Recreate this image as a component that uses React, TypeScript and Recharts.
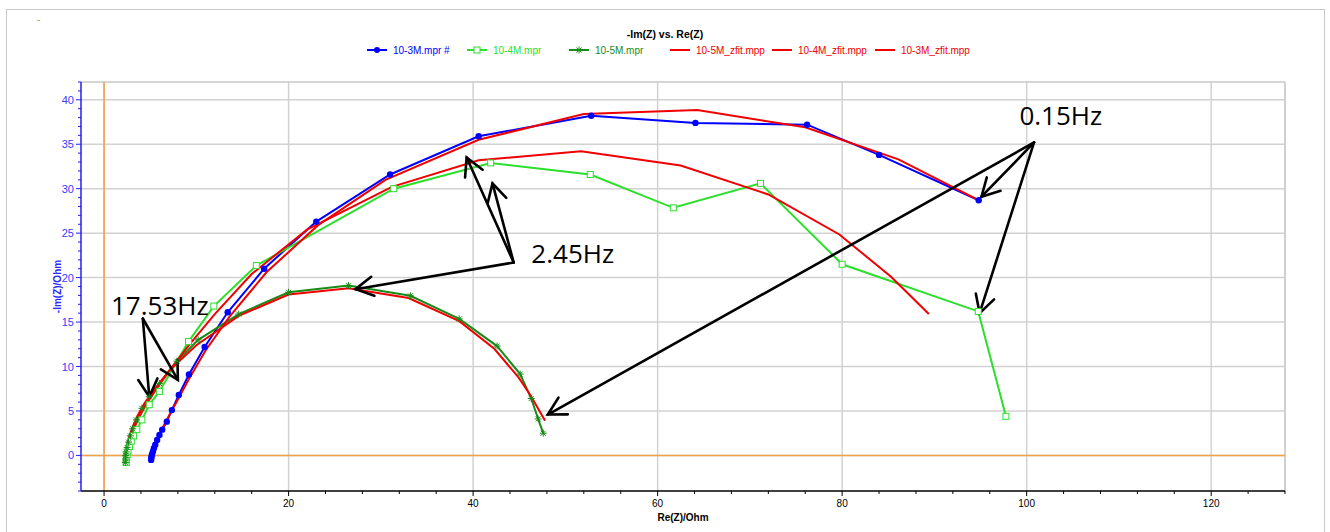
import {
  CartesianGrid,
  Line,
  LineChart,
  ReferenceDot,
  ReferenceLine,
  XAxis,
  YAxis,
} from "recharts";

// measured points, [Re(Z), -Im(Z)] in Ohm
const mpr3M: number[][] = [
  [5.1, -0.5], [5.12, -0.3], [5.15, -0.1], [5.2, 0.15], [5.3, 0.45], [5.4, 0.8],
  [5.55, 1.2], [5.75, 1.75], [6.0, 2.3], [6.3, 2.9], [6.8, 3.8], [7.35, 5.1],
  [8.1, 6.8], [9.2, 9.1], [10.9, 12.2], [13.4, 16.1], [17.35, 21.0], [23, 26.3],
  [31, 31.6], [40.6, 35.9], [52.8, 38.2], [64.1, 37.4], [76.2, 37.2], [84, 33.8],
  [94.8, 28.7],
];

const mpr4M: number[][] = [
  [2.4, -0.8], [2.42, -0.5], [2.45, -0.2], [2.5, 0.1], [2.6, 0.5], [2.75, 1.0],
  [2.95, 1.6], [3.2, 2.2], [3.55, 2.9], [4.1, 4.0], [4.9, 5.7], [6.0, 7.2],
  [9.15, 12.8], [11.9, 16.8], [16.5, 21.35], [31.4, 30.0], [41.9, 32.9],
  [52.7, 31.6], [61.7, 27.85], [71.15, 30.6], [80.0, 21.5], [94.75, 16.2],
  [97.75, 4.4],
];

const mpr5M: number[][] = [
  [2.3, -0.8], [2.32, -0.4], [2.35, 0], [2.4, 0.4], [2.5, 0.9], [2.65, 1.5],
  [2.85, 2.2], [3.1, 3.0], [3.5, 4.0], [4.1, 5.3], [4.9, 6.6], [6.0, 8.1],
  [7.9, 10.6], [10.2, 13.0], [14.6, 15.9], [20.0, 18.35], [26.5, 19.1],
  [33.2, 17.95], [38.5, 15.35], [42.6, 12.3], [45.1, 9.15], [46.3, 6.4],
  [47.05, 4.1], [47.6, 2.5],
];

// fitted curves
const fit5M: number[][] = [
  [2.3, 0], [2.45, 1.0], [2.7, 2.0], [3.05, 3.1], [3.6, 4.4], [4.4, 5.9],
  [5.5, 7.5], [7.2, 9.7], [10, 12.4], [14.6, 15.7], [20, 18.1], [26.5, 18.8],
  [33, 17.7], [38.5, 15.1], [42.3, 12.0], [44.9, 8.8], [46.2, 6.8], [47.8, 3.9],
];

const fit4M: number[][] = [
  [2.4, 0], [2.55, 0.8], [2.8, 1.8], [3.2, 2.9], [3.8, 4.3], [4.6, 5.8],
  [5.7, 7.5], [7.2, 9.7], [9.2, 12.4], [12, 15.9], [16, 20.4], [22, 25.4],
  [31.2, 30.2], [40.6, 33.2], [51.7, 34.2], [62.5, 32.6], [72, 29.35],
  [79.7, 24.85], [85.3, 20.1], [89.4, 15.9],
];

const fit3M: number[][] = [
  [5.1, 0], [5.35, 0.8], [5.75, 1.9], [6.3, 3.0], [7.0, 4.4], [7.9, 6.1],
  [9.2, 8.6], [11, 11.8], [13.6, 15.6], [17.6, 20.6], [23.2, 25.9], [30.5, 31.0],
  [40.6, 35.5], [52, 38.4], [64.3, 38.85], [76, 36.9], [86.1, 33.3], [95, 28.6],
];

const xTicks = Array.from({ length: 33 }, (_, i) => i * 4);
const yTicks = Array.from({ length: 47 }, (_, i) => i - 4);
const xGrid = [0, 20, 40, 60, 80, 100, 120];
const yGrid = [0, 5, 10, 15, 20, 25, 30, 35, 40];

// frequency call-outs: label point and arrows (data units)
const notes = [
  { text: "0.15Hz", at: [103.7, 38.3], from: [100.8, 35.2], to: [[95.1, 29.1], [94.9, 16.0], [48.1, 4.6]] },
  { text: "2.45Hz", at: [50.8, 22.8], from: [44.4, 21.7], to: [[39.3, 33.5], [42.1, 30.6], [27.25, 18.7]] },
  { text: "17.53Hz", at: [6.04, 16.9], from: [4.2, 15.4], to: [[4.9, 6.6], [8.0, 8.5]] },
];

const BLUE = "#0000ff";
const LIME = "#2bdf2b";
const DKGREEN = "#178a17";
const RED = "#f00000";
const ORANGE = "#f3a046";
const GRID = "#d2d2d2";
const AXIS_BLUE = "#2020f0";
const FONT = "'Liberation Sans', Arial, sans-serif";

const pts = (arr: number[][]) => arr.map(([x, y]) => ({ x, y }));

const Circle = (p: any) => <circle key={p.index} cx={p.cx} cy={p.cy} r={3.2} fill={BLUE} />;
const Square = (p: any) => (
  <rect key={p.index} x={p.cx - 3} y={p.cy - 3} width={6} height={6} fill="#fff" stroke={LIME} strokeWidth={1} />
);
const Star = (p: any) => {
  const { cx, cy } = p;
  const r = 3.5;
  return (
    <g key={p.index} stroke={DKGREEN} strokeWidth={1}>
      <line x1={cx - r} y1={cy} x2={cx + r} y2={cy} />
      <line x1={cx} y1={cy - r} x2={cx} y2={cy + r} />
      <line x1={cx - 2.5} y1={cy - 2.5} x2={cx + 2.5} y2={cy + 2.5} />
      <line x1={cx - 2.5} y1={cy + 2.5} x2={cx + 2.5} y2={cy - 2.5} />
    </g>
  );
};

const YTick = (p: any) => {
  const v = p.payload.value;
  const major = v % 5 === 0;
  return (
    <g>
      <line x1={p.x} x2={p.x - (major ? 5 : 3)} y1={p.y} y2={p.y} stroke={AXIS_BLUE} strokeWidth={1} />
      {major && v >= 0 && v <= 40 && (
        <text x={p.x - 7} y={p.y} textAnchor="end" dominantBaseline="central" fill="#3a3aff" fontSize={11} fontFamily={FONT}>
          {v}
        </text>
      )}
    </g>
  );
};

const XTick = (p: any) => {
  const v = p.payload.value;
  const major = v % 20 === 0;
  return (
    <g>
      <line x1={p.x} x2={p.x} y1={p.y} y2={p.y + (major ? 5 : 3)} stroke="#000" strokeWidth={1} />
      {major && v <= 120 && (
        <text x={p.x} y={p.y + 12} textAnchor="middle" dominantBaseline="central" fill="#000" fontSize={10} fontFamily={FONT}>
          {v}
        </text>
      )}
    </g>
  );
};

const Arrow = (p: any) => {
  const { x1, y1, x2, y2 } = p;
  const ang = Math.atan2(y2 - y1, x2 - x1);
  const len = 20;
  const spread = 0.5;
  const a = [x2 - len * Math.cos(ang - spread), y2 - len * Math.sin(ang - spread)];
  const b = [x2 - len * Math.cos(ang + spread), y2 - len * Math.sin(ang + spread)];
  return (
    <g stroke="#000" strokeWidth={2.6} fill="none" strokeLinecap="round">
      <line x1={x1} y1={y1} x2={x2} y2={y2} />
      <polyline points={`${a[0]},${a[1]} ${x2},${y2} ${b[0]},${b[1]}`} />
    </g>
  );
};

const legendItems = [
  { name: "10-3M.mpr #", color: BLUE, mark: "circle", left: 366 },
  { name: "10-4M.mpr", color: LIME, mark: "square", left: 466 },
  { name: "10-5M.mpr", color: DKGREEN, mark: "star", left: 568 },
  { name: "10-5M_zfit.mpp", color: RED, mark: "none", left: 669 },
  { name: "10-4M_zfit.mpp", color: RED, mark: "none", left: 771 },
  { name: "10-3M_zfit.mpp", color: RED, mark: "none", left: 874 },
];

function LegendIcon({ color, mark }: { color: string; mark: string }) {
  return (
    <svg width={22} height={10} style={{ display: "block" }}>
      <line x1={1} y1={5} x2={21} y2={5} stroke={color} strokeWidth={2} />
      {mark === "circle" && <circle cx={11} cy={5} r={3} fill={color} />}
      {mark === "square" && <rect x={8} y={2} width={6} height={6} fill="#fff" stroke={color} />}
      {mark === "star" && (
        <g stroke={color} strokeWidth={1}>
          <line x1={11} y1={1.5} x2={11} y2={8.5} />
          <line x1={8.5} y1={2.5} x2={13.5} y2={7.5} />
          <line x1={8.5} y1={7.5} x2={13.5} y2={2.5} />
        </g>
      )}
    </svg>
  );
}

export default function App() {
  return (
    <div style={{ position: "absolute", left: 0, top: 0, width: 1330, height: 532, background: "#fff", overflow: "hidden", fontFamily: FONT }}>
      <div style={{ position: "absolute", left: 6, top: 9, width: 1317, height: 560, border: "1px solid #c8c8c8" }} />
      <div style={{ position: "absolute", left: 37, top: 20, width: 3, height: 1, background: ORANGE }} />
      <div style={{ position: "absolute", left: 0, top: 28, width: 1330, textAlign: "center", fontSize: 10.5, fontWeight: "bold", color: "#000" }}>
        -Im(Z) vs. Re(Z)
      </div>
      {legendItems.map((it) => (
        <div key={it.name} style={{ position: "absolute", left: it.left, top: 44, display: "flex", alignItems: "center", height: 12 }}>
          <LegendIcon color={it.color} mark={it.mark} />
          <span style={{ marginLeft: 5, fontSize: 10, color: it.color, whiteSpace: "nowrap" }}>{it.name}</span>
        </div>
      ))}
      <div style={{ position: "absolute", left: 0, top: 0 }}>
        <LineChart width={1330} height={532} margin={{ top: 82, right: 45, bottom: 0, left: 41 }}>
          <CartesianGrid stroke={GRID} strokeWidth={1.5} horizontalValues={yGrid} verticalValues={xGrid} />
          <XAxis
            type="number"
            dataKey="x"
            domain={[-2.5, 128]}
            ticks={xTicks}
            interval={0}
            allowDataOverflow
            height={41}
            tickSize={0}
            tickMargin={0}
            tickLine={false}
            tick={<XTick />}
            axisLine={{ stroke: "#000", strokeWidth: 1.5 }}
            label={(props: any) => {
              const vb = props.viewBox;
              return (
                <text x={vb.x + vb.width / 2} y={vb.y + 26} textAnchor="middle" dominantBaseline="central" fontSize={10} fontWeight="bold" fontFamily={FONT} fill="#000">
                  Re(Z)/Ohm
                </text>
              );
            }}
          />
          <YAxis
            type="number"
            dataKey="y"
            domain={[-4, 42]}
            ticks={yTicks}
            interval={0}
            allowDataOverflow
            width={40}
            tickSize={0}
            tickMargin={0}
            tickLine={false}
            tick={<YTick />}
            axisLine={{ stroke: AXIS_BLUE, strokeWidth: 1.5 }}
            label={(props: any) => {
              const vb = props.viewBox;
              const cx = vb.x + 16;
              const cy = vb.y + vb.height / 2;
              return (
                <text x={cx} y={cy} transform={`rotate(-90 ${cx} ${cy})`} textAnchor="middle" dominantBaseline="central" fontSize={10} fontWeight="bold" fontFamily={FONT} fill="#2a2aff">
                  -Im(Z)/Ohm
                </text>
              );
            }}
          />
          <ReferenceLine y={42} stroke="#c8c8c8" strokeWidth={1.5} />
          <ReferenceLine x={128} stroke="#d0d0d0" strokeWidth={2} />
          <ReferenceLine x={0} stroke={ORANGE} strokeWidth={1.5} />
          <ReferenceLine y={0} stroke={ORANGE} strokeWidth={1.5} />

          <Line data={pts(mpr3M)} dataKey="y" stroke={BLUE} strokeWidth={2} dot={Circle} activeDot={false} isAnimationActive={false} />
          <Line data={pts(mpr4M)} dataKey="y" stroke={LIME} strokeWidth={2} dot={Square} activeDot={false} isAnimationActive={false} />
          <Line data={pts(mpr5M)} dataKey="y" stroke={DKGREEN} strokeWidth={2} dot={Star} activeDot={false} isAnimationActive={false} />
          <Line data={pts(fit5M)} dataKey="y" stroke={RED} strokeWidth={2} dot={false} activeDot={false} isAnimationActive={false} />
          <Line data={pts(fit4M)} dataKey="y" stroke={RED} strokeWidth={2} dot={false} activeDot={false} isAnimationActive={false} />
          <Line data={pts(fit3M)} dataKey="y" stroke={RED} strokeWidth={2} dot={false} activeDot={false} isAnimationActive={false} />

          {notes.flatMap((n) =>
            n.to.map((t, i) => (
              <ReferenceLine
                key={`${n.text}-${i}`}
                segment={[{ x: n.from[0], y: n.from[1] }, { x: t[0], y: t[1] }]}
                shape={Arrow}
                ifOverflow="visible"
              />
            ))
          )}
          {notes.map((n) => (
            <ReferenceDot
              key={n.text}
              x={n.at[0]}
              y={n.at[1]}
              r={0}
              ifOverflow="visible"
              shape={(p: any) => (
                <text x={p.cx} y={p.cy} textAnchor="middle" dominantBaseline="central" fontSize={26} fontFamily="'Open Sans', sans-serif" fill="#000">
                  {n.text}
                </text>
              )}
            />
          ))}
        </LineChart>
      </div>
    </div>
  );
}
